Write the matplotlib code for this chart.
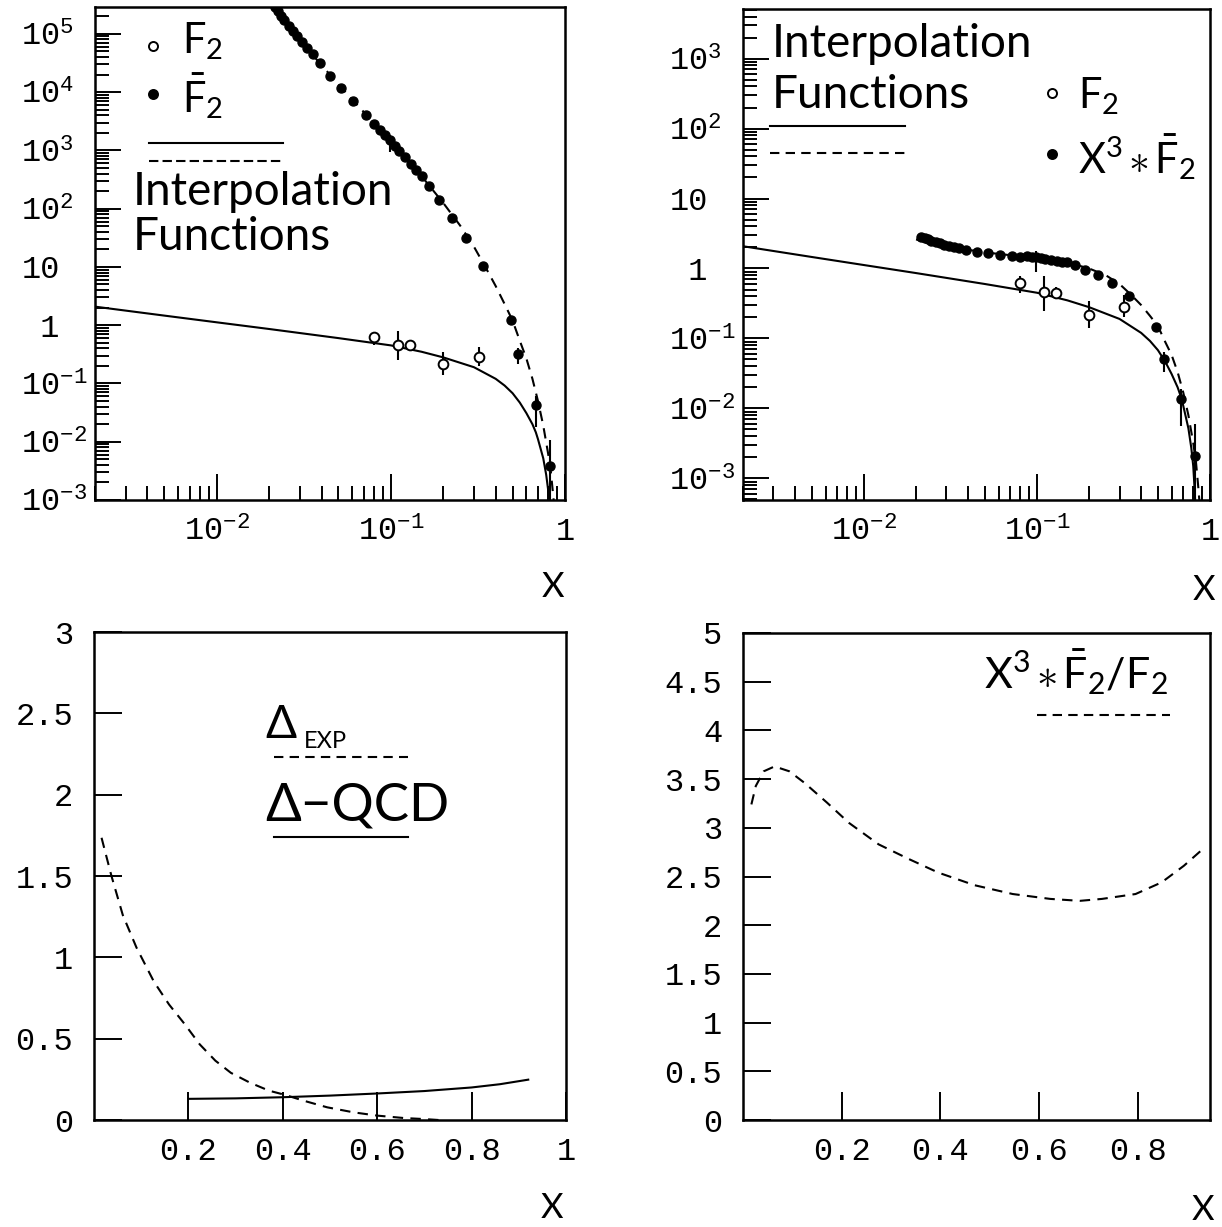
import numpy as np
import matplotlib
matplotlib.use('Agg')
import matplotlib.pyplot as plt
from matplotlib.lines import Line2D
from matplotlib.ticker import FixedLocator, FixedFormatter, LogLocator, NullFormatter

plt.rcParams['font.family'] = 'Liberation Mono'
plt.rcParams['mathtext.fontset'] = 'custom'
plt.rcParams['mathtext.rm'] = 'Liberation Mono'
plt.rcParams['mathtext.it'] = 'Liberation Mono'
plt.rcParams['mathtext.sf'] = 'Lato'

W, H = 1222, 1227
SANS = ['Lato', 'DejaVu Sans']

# ---- data ----
# F2 measurements (open circles), with error bar ends
f2_x = [0.080, 0.110, 0.129, 0.200, 0.320]
f2_y = [0.62, 0.46, 0.45, 0.216, 0.28]
f2_lo = [0.45, 0.25, 0.37, 0.14, 0.20]
f2_hi = [0.77, 0.79, 0.55, 0.345, 0.42]

# x^3 * F2bar measurements (filled circles)
fb_x = [0.0215, 0.0225, 0.0235, 0.0245, 0.026, 0.0275, 0.029, 0.031, 0.033, 0.0355,
        0.039, 0.045, 0.052, 0.061, 0.072, 0.080, 0.087, 0.093, 0.099, 0.105,
        0.112, 0.120, 0.130, 0.140, 0.150, 0.165, 0.190, 0.225, 0.270, 0.340,
        0.490, 0.540, 0.680, 0.820]
fb_y = [2.85, 2.75, 2.60, 2.50, 2.38, 2.30, 2.20, 2.12, 2.05, 1.98,
        1.85, 1.72, 1.68, 1.58, 1.52, 1.47, 1.50, 1.45, 1.44, 1.40,
        1.36, 1.33, 1.30, 1.25, 1.22, 1.12, 0.95, 0.80, 0.62, 0.40,
        0.144, 0.050, 0.0136, 0.0021]
# the few filled points with visible error bars
fbe_x = [0.099, 0.540, 0.680, 0.820]
fbe_y = [1.44, 0.050, 0.0136, 0.0021]
fbe_lo = [0.90, 0.0335, 0.0056, 0.0002]
fbe_hi = [1.80, 0.065, 0.019, 0.0060]

# interpolation function for F2 (solid)
sol_x = [0.002, 0.005, 0.01, 0.02, 0.05, 0.10, 0.15, 0.20, 0.30, 0.40, 0.45, 0.50,
         0.55, 0.60, 0.65, 0.68, 0.70, 0.75, 0.78, 0.80, 0.81, 0.82, 0.825]
sol_y = [2.08, 1.46, 1.12, 0.86, 0.60, 0.45, 0.35, 0.28, 0.19, 0.12, 0.092, 0.068,
         0.047, 0.031, 0.020, 0.0145, 0.011, 0.0052, 0.0027, 0.0015, 0.0009, 0.0005, 0.0003]

# interpolation function for x^3 * F2bar (dashed)
dsh_x = [0.020, 0.025, 0.030, 0.040, 0.050, 0.070, 0.10, 0.15, 0.20, 0.25, 0.30,
         0.35, 0.40, 0.45, 0.50, 0.55, 0.60, 0.65, 0.70, 0.75, 0.80, 0.83, 0.86, 0.88]
dsh_y = [2.60, 2.30, 2.10, 1.85, 1.70, 1.55, 1.42, 1.22, 1.00, 0.80, 0.60,
         0.42, 0.30, 0.21, 0.15, 0.090, 0.058, 0.033, 0.017, 0.008, 0.0032, 0.0017, 0.00065, 0.0003]

# Delta_EXP (dashed) and Delta-QCD (solid)
dexp_x = [0.016, 0.037, 0.061, 0.090, 0.127, 0.159, 0.192, 0.224, 0.257, 0.290,
          0.330, 0.371, 0.404, 0.445, 0.494, 0.550, 0.600, 0.657, 0.698, 0.730]
dexp_y = [1.735, 1.50, 1.26, 1.06, 0.85, 0.71, 0.59, 0.465, 0.365, 0.29,
          0.23, 0.18, 0.155, 0.118, 0.078, 0.047, 0.027, 0.012, 0.006, 0.0]
dqcd_x = [0.20, 0.30, 0.40, 0.50, 0.60, 0.70, 0.80, 0.86, 0.92]
dqcd_y = [0.13, 0.133, 0.14, 0.15, 0.163, 0.178, 0.20, 0.22, 0.248]

# x^3 * F2bar / F2 (dashed)
rat_x = [0.017, 0.026, 0.042, 0.064, 0.094, 0.125, 0.170, 0.215, 0.275, 0.336,
         0.396, 0.470, 0.547, 0.623, 0.683, 0.728, 0.796, 0.849, 0.894, 0.932]
rat_y = [3.24, 3.43, 3.58, 3.63, 3.58, 3.46, 3.26, 3.05, 2.83, 2.68,
         2.54, 2.41, 2.32, 2.27, 2.25, 2.27, 2.32, 2.44, 2.61, 2.78]

# tick labels
log_yt1 = [1e-3, 1e-2, 1e-1, 1, 10, 1e2, 1e3, 1e4, 1e5]
log_yl1 = ['$10^{-3}$', '$10^{-2}$', '$10^{-1}$', ' 1', '10', '$10^{2}$', '$10^{3}$', '$10^{4}$', '$10^{5}$']
log_yt2 = [1e-3, 1e-2, 1e-1, 1, 10, 1e2, 1e3]
log_yl2 = ['$10^{-3}$', '$10^{-2}$', '$10^{-1}$', ' 1', '10', '$10^{2}$', '$10^{3}$']
log_xt = [1e-2, 1e-1, 1]
log_xl = ['$10^{-2}$', '$10^{-1}$', '1']

DASH = (0, (5, 3.5))
LW = 1.5


def rect(l, t, r, b):
    return [l / W, 1 - b / H, (r - l) / W, (b - t) / H]


def fpt(x, y):
    return x / W, 1 - y / H


def ftext(x, y, s, **kw):
    fx, fy = fpt(x, y)
    fig.text(fx, fy, s, **kw)


def fline(x0, x1, y, **kw):
    a, b = fpt(x0, y)
    c, d = fpt(x1, y)
    fig.add_artist(Line2D([a, c], [b, d], transform=fig.transFigure, color='k', lw=LW, **kw))


def fmark(x, y, filled):
    a, b = fpt(x, y)
    fig.add_artist(Line2D([a], [b], transform=fig.transFigure, marker='o', ms=6.5,
                          mfc='k' if filled else 'white', mec='k', mew=1.4, ls='none'))


fig = plt.figure(figsize=(W / 100, H / 100), dpi=100)
ax1 = fig.add_axes(rect(95, 7, 565, 500))
ax2 = fig.add_axes(rect(743, 9, 1210, 500))
ax3 = fig.add_axes(rect(94, 632, 566, 1120))
ax4 = fig.add_axes(rect(743, 633, 1210, 1120))

for ax in (ax1, ax2, ax3, ax4):
    for s in ax.spines.values():
        s.set_linewidth(1.8)
    ax.tick_params(which='both', direction='in', top=False, right=False, width=1.4,
                   labelsize=23)
    ax.tick_params(which='major', length=19)
    ax.tick_params(which='minor', length=10)

# ---- top panels (log-log) ----
fbx = np.array(fb_x)
fex = np.array(fbe_x)
for ax, scale, yt, yl, ylim in ((ax1, 1, log_yt1, log_yl1, (1e-3, 10 ** 5.46)),
                                (ax2, 0, log_yt2, log_yl2, (10 ** -3.31, 10 ** 3.71))):
    ax.set_xscale('log')
    ax.set_yscale('log')
    ax.set_xlim(0.002, 1.0)
    ax.set_ylim(*ylim)
    div = np.array(dsh_x) ** 3 if scale else 1
    ax.plot(sol_x, sol_y, color='k', lw=LW)
    ax.plot(dsh_x, np.array(dsh_y) / div, color='k', lw=LW, ls=DASH)
    dfb = fbx ** 3 if scale else 1
    dfe = fex ** 3 if scale else 1
    ey = np.array(fbe_y) / dfe
    ax.errorbar(fbe_x, ey, yerr=[ey - np.array(fbe_lo) / dfe, np.array(fbe_hi) / dfe - ey],
                fmt='none', ecolor='k', elinewidth=1.5, capsize=0)
    ax.plot(fb_x, np.array(fb_y) / dfb, 'o', color='k', ms=6.5, ls='none')
    fy = np.array(f2_y)
    ax.errorbar(f2_x, fy, yerr=[fy - np.array(f2_lo), np.array(f2_hi) - fy], fmt='o',
                ms=7, mfc='white', mec='k', mew=1.4, ecolor='k', elinewidth=1.5,
                capsize=0, zorder=4)
    ax.yaxis.set_major_locator(FixedLocator(yt))
    ax.yaxis.set_major_formatter(FixedFormatter(yl))
    ax.yaxis.set_minor_locator(LogLocator(base=10, subs=np.arange(2, 10), numticks=50))
    ax.yaxis.set_minor_formatter(NullFormatter())
    ax.xaxis.set_major_locator(FixedLocator(log_xt))
    ax.xaxis.set_major_formatter(FixedFormatter(log_xl))
    ax.xaxis.set_minor_locator(LogLocator(base=10, subs=np.arange(2, 10), numticks=50))
    ax.xaxis.set_minor_formatter(NullFormatter())
    ax.tick_params(axis='y', which='major', pad=53)
    ax.tick_params(axis='x', which='major', pad=12)
    for lab in ax.get_yticklabels():
        lab.set_horizontalalignment('left')

# ---- bottom panels (linear) ----
ax3.plot(dexp_x, dexp_y, color='k', lw=LW, ls=DASH)
ax3.plot(dqcd_x, dqcd_y, color='k', lw=LW)
ax3.set_xlim(0, 1)
ax3.set_ylim(0, 3)
ax3.set_xticks([0.2, 0.4, 0.6, 0.8, 1.0], ['0.2', '0.4', '0.6', '0.8', '1'])
ax3.set_yticks([0, 0.5, 1, 1.5, 2, 2.5, 3], ['0', '0.5', '1', '1.5', '2', '2.5', '3'])

ax4.plot(rat_x, rat_y, color='k', lw=LW, ls=DASH)
ax4.set_xlim(0, 0.947)
ax4.set_ylim(0, 5)
ax4.set_xticks([0.2, 0.4, 0.6, 0.8], ['0.2', '0.4', '0.6', '0.8'])
ax4.set_yticks(np.arange(0, 5.01, 0.5),
               ['0', '0.5', '1', '1.5', '2', '2.5', '3', '3.5', '4', '4.5', '5'])
for ax in (ax3, ax4):
    ax.tick_params(which='major', length=20)
    ax.tick_params(axis='y', pad=15)
    ax.tick_params(axis='x', pad=12)

# ---- legends and labels ----
lt = dict(family=SANS, ha='left', va='baseline', color='k')
# top-left
fmark(153, 46, False)
ftext(182, 53, r'$\mathsf{F_2}$', fontsize=30, **lt)
fmark(153, 94, True)
ftext(182, 112, r'$\mathsf{\bar{F}_2}$', fontsize=30, **lt)
fline(149, 283, 143)
fline(149, 283, 161, ls=(0, (4.5, 2)))
ftext(133, 205, 'Interpolation', fontsize=33, **lt)
ftext(133, 250, 'Functions', fontsize=33, **lt)
# top-right
ftext(772, 57, 'Interpolation', fontsize=33, **lt)
ftext(772, 108, 'Functions', fontsize=33, **lt)
fline(770, 905, 126)
fline(770, 905, 153, ls=(0, (4.5, 3)))
fmark(1052, 93, False)
ftext(1078, 108, r'$\mathsf{F_2}$', fontsize=30, **lt)
fmark(1052, 154, True)
ftext(1078, 173, r'$\mathsf{X^3\ast\bar{F}_2}$', fontsize=30, **lt)
# bottom-left
ftext(265, 738, '\u0394', fontsize=33, **lt)
ftext(304, 748, 'EXP', fontsize=17, **lt)
fline(274, 408, 757, ls=(0, (4.5, 3)))
ftext(265, 820, '\u0394\u2212QCD', fontsize=38, **lt)
fline(274, 408, 837)
# bottom-right
ftext(984, 688, r'$\mathsf{X^3\ast\bar{F}_2/F_2}$', fontsize=31, **lt)
fline(1037, 1170, 715, ls=(0, (4.5, 3)))
# axis labels
xl = dict(family=SANS, ha='right', va='baseline', fontsize=25, color='k')
ftext(564, 597, 'X', **xl)
ftext(1215, 600, 'X', **xl)
ftext(563, 1218, 'X', **xl)
ftext(1214, 1220, 'X', **xl)

fig.savefig('out.png', dpi=100)
